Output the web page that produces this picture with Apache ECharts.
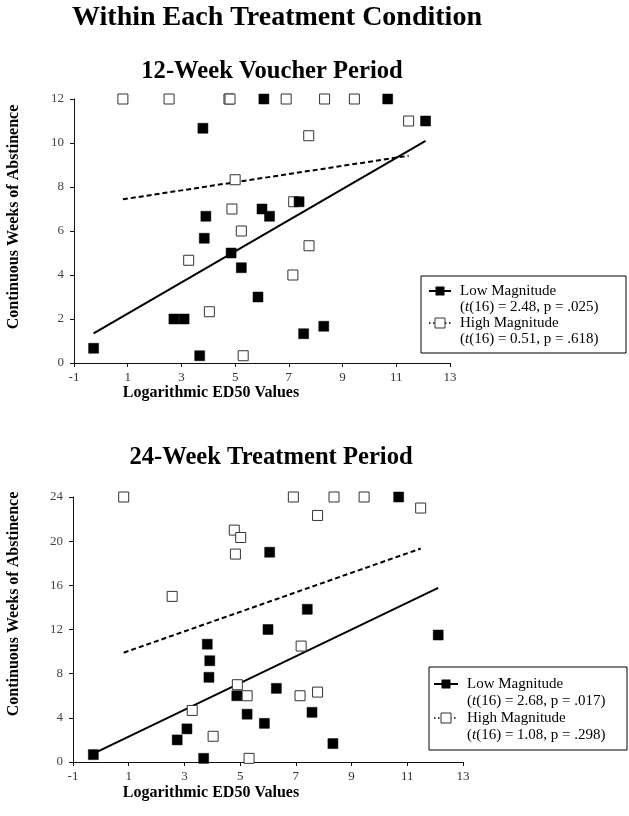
<!DOCTYPE html>
<html>
<head>
<meta charset="utf-8">
<script src="https://cdn.jsdelivr.net/npm/echarts@6/dist/echarts.min.js"></script>
<style>
html,body{margin:0;padding:0;background:#fff;}
#c{width:629px;height:816px;}
</style>
</head>
<body>
<div id="c"></div>
<script>
// ---- 12-week voucher period ----
const lowX12  = [-0.27, 2.72, 3.10, 3.68, 3.80, 3.85, 3.91, 4.85, 5.23, 5.85, 6.00, 6.07, 6.28, 7.38, 7.55, 8.30, 10.68, 12.09];
const lowY12  = [0.67, 2.0, 2.0, 0.33, 10.67, 5.67, 6.67, 5.0, 4.33, 3.0, 7.0, 12, 6.67, 7.33, 1.33, 1.67, 12, 11.0];
const highX12 = [0.82, 2.54, 4.77, 4.81, 6.90, 8.33, 9.44, 11.46, 7.74, 5.00, 4.88, 7.18, 5.23, 7.75, 3.27, 7.15, 4.04, 5.30];
const highY12 = [12, 12, 12, 12, 12, 12, 12, 11.0, 10.33, 8.33, 7.0, 7.33, 6.0, 5.33, 4.67, 4.0, 2.33, 0.33];
const trendLowX12  = [-0.27, 12.09];
const trendLowY12  = [1.35, 10.1];
const trendHighX12 = [0.82, 11.46];
const trendHighY12 = [7.44, 9.42];

// ---- 24-week treatment period ----
const lowX24  = [-0.27, 2.74, 3.09, 3.69, 3.82, 3.91, 3.88, 4.88, 5.25, 5.87, 6.00, 6.06, 6.30, 7.41, 7.58, 8.33, 10.69, 12.11];
const lowY24  = [0.67, 2.0, 3.0, 0.33, 10.67, 9.17, 7.67, 6.0, 4.33, 3.5, 12.0, 19.0, 6.67, 13.83, 4.5, 1.67, 24, 11.5];
const highX24 = [0.82, 2.56, 4.79, 5.02, 4.83, 4.90, 5.25, 3.28, 4.03, 5.32, 6.91, 7.19, 7.15, 8.37, 9.45, 7.78, 11.48, 7.78];
const highY24 = [24, 15.0, 21.0, 20.33, 18.83, 7.0, 6.0, 4.67, 2.33, 0.33, 24, 10.5, 6.0, 24, 24, 22.33, 23.0, 6.33];
const trendLowX24  = [-0.27, 12.11];
const trendLowY24  = [0.75, 15.77];
const trendHighX24 = [0.82, 11.48];
const trendHighY24 = [9.9, 19.33];

// ---- axes ----
const xMin = -1, xMax = 13, xStep = 2;
const yMax12 = 12, yStep12 = 2;
const yMax24 = 24, yStep24 = 4;

// ---- text ----
const mainTitle = 'Within Each Treatment Condition';
const subTitle12 = '12-Week Voucher Period';
const subTitle24 = '24-Week Treatment Period';
const yTitle = 'Continuous Weeks of Abstinence';
const xTitle = 'Logarithmic ED50 Values';
const legendLow = 'Low Magnitude';
const legendHigh = 'High Magnitude';
const stats12 = [['16', '2.48', '.025'], ['16', '0.51', '.618']];
const stats24 = [['16', '2.68', '.017'], ['16', '1.08', '.298']];

const SERIF = '"Liberation Serif", "Times New Roman", serif';
const zip = (xs, ys) => xs.map((x, i) => [x, ys[i]]);

function xAxisCfg(gi) {
  return {
    type: 'value', gridIndex: gi, min: xMin, max: xMax, interval: xStep,
    axisLine: { show: true, onZero: false, lineStyle: { color: '#111', width: 1 } },
    axisTick: { show: true, inside: false, length: 4, lineStyle: { color: '#111' } },
    axisLabel: { margin: 8, fontFamily: SERIF, fontSize: 13, color: '#333' },
    splitLine: { show: false }
  };
}
function yAxisCfg(gi, max, step) {
  return {
    type: 'value', gridIndex: gi, min: 0, max: max, interval: step,
    axisLine: { show: true, onZero: false, lineStyle: { color: '#111', width: 1 } },
    axisTick: { show: true, inside: false, length: 4, lineStyle: { color: '#111' } },
    axisLabel: { margin: 10, fontFamily: SERIF, fontSize: 13, color: '#444' },
    splitLine: { show: false }
  };
}
function scatter(gi, xs, ys, filled) {
  return {
    type: 'scatter', xAxisIndex: gi, yAxisIndex: gi, data: zip(xs, ys),
    symbol: 'rect', symbolSize: 10, silent: true, z: filled ? 4 : 3,
    itemStyle: filled ? { color: '#000', borderColor: '#000', borderWidth: 0.5, opacity: 1 }
                      : { color: '#fff', borderColor: '#333', borderWidth: 1, opacity: 1 }
  };
}
function trend(gi, xs, ys, dashed) {
  return {
    type: 'line', xAxisIndex: gi, yAxisIndex: gi, data: zip(xs, ys),
    showSymbol: false, symbol: 'none', silent: true, z: 2,
    lineStyle: { color: '#000', width: 2, type: dashed ? [5, 3] : 'solid' }
  };
}

function text(x, y, str, size, weight, opts) {
  return Object.assign({
    type: 'text', x: x, y: y, silent: true,
    style: { text: str, fontFamily: SERIF, fontSize: size, fontWeight: weight, fill: '#000',
             textAlign: 'center', textVerticalAlign: 'middle' }
  }, opts || {});
}

function legend(bx, by, bw, bh, mx0, mx1, tx, y0, dy, stats) {
  const mc = (mx0 + mx1) / 2;
  const FS = 15;
  const rich = {
    n: { fontFamily: SERIF, fontSize: FS, fill: '#000' },
    i: { fontFamily: SERIF, fontSize: FS, fontStyle: 'italic', fill: '#000' }
  };
  const statLine = s => '{n|(}{i|t}{n|(' + s[0] + ') = ' + s[1] + ', p = ' + s[2] + ')}';
  const mk = (str, y) => ({
    type: 'text', x: tx, y: y, silent: true,
    style: { text: str, rich: rich, fontFamily: SERIF, fontSize: FS, fill: '#000',
             textAlign: 'left', textVerticalAlign: 'middle' }
  });
  return [
    { type: 'rect', silent: true, shape: { x: bx, y: by, width: bw, height: bh },
      style: { fill: '#fff', stroke: '#000', lineWidth: 1 }, z: 10 },
    { type: 'line', silent: true, shape: { x1: mx0, y1: y0, x2: mx1, y2: y0 },
      style: { stroke: '#000', lineWidth: 2 }, z: 11 },
    { type: 'rect', silent: true, shape: { x: mc - 4.5, y: y0 - 4.5, width: 9, height: 9 },
      style: { fill: '#000' }, z: 12 },
    { type: 'line', silent: true, shape: { x1: mx0, y1: y0 + 2 * dy, x2: mx1, y2: y0 + 2 * dy },
      style: { stroke: '#000', lineWidth: 1.5, lineDash: [1.5, 2.5] }, z: 11 },
    { type: 'rect', silent: true, shape: { x: mc - 5, y: y0 + 2 * dy - 5, width: 10, height: 10 },
      style: { fill: '#fff', stroke: '#333', lineWidth: 1 }, z: 12 },
    Object.assign(mk('{n|' + legendLow + '}', y0), { z: 12 }),
    Object.assign(mk(statLine(stats[0]), y0 + dy), { z: 12 }),
    Object.assign(mk('{n|' + legendHigh + '}', y0 + 2 * dy), { z: 12 }),
    Object.assign(mk(statLine(stats[1]), y0 + 3 * dy), { z: 12 })
  ];
}

const chart = echarts.init(document.getElementById('c'), null, { renderer: 'canvas' });
chart.setOption({
  animation: false,
  backgroundColor: '#fff',
  grid: [
    { left: 74, top: 99, width: 376, height: 264 },
    { left: 73, top: 497, width: 390, height: 265 }
  ],
  xAxis: [xAxisCfg(0), xAxisCfg(1)],
  yAxis: [yAxisCfg(0, yMax12, yStep12), yAxisCfg(1, yMax24, yStep24)],
  series: [
    trend(0, trendLowX12, trendLowY12, false),
    trend(0, trendHighX12, trendHighY12, true),
    scatter(0, highX12, highY12, false),
    scatter(0, lowX12, lowY12, true),
    trend(1, trendLowX24, trendLowY24, false),
    trend(1, trendHighX24, trendHighY24, true),
    scatter(1, highX24, highY24, false),
    scatter(1, lowX24, lowY24, true)
  ],
  graphic: [
    text(277, 18, mainTitle, 28, 'bold'),
    text(272, 72, subTitle12, 24.6, 'bold'),
    text(271, 458, subTitle24, 24.6, 'bold'),
    text(14, 217, yTitle, 16, 'bold', { rotation: Math.PI / 2 }),
    text(14, 604, yTitle, 16, 'bold', { rotation: Math.PI / 2 }),
    text(211, 393, xTitle, 16, 'bold'),
    text(211, 793, xTitle, 16, 'bold')
  ].concat(
    legend(421, 276, 205, 77, 429, 451, 460, 291, 16, stats12),
    legend(429, 667, 198, 83, 434, 458, 467, 684, 17, stats24)
  )
});
</script>
</body>
</html>
